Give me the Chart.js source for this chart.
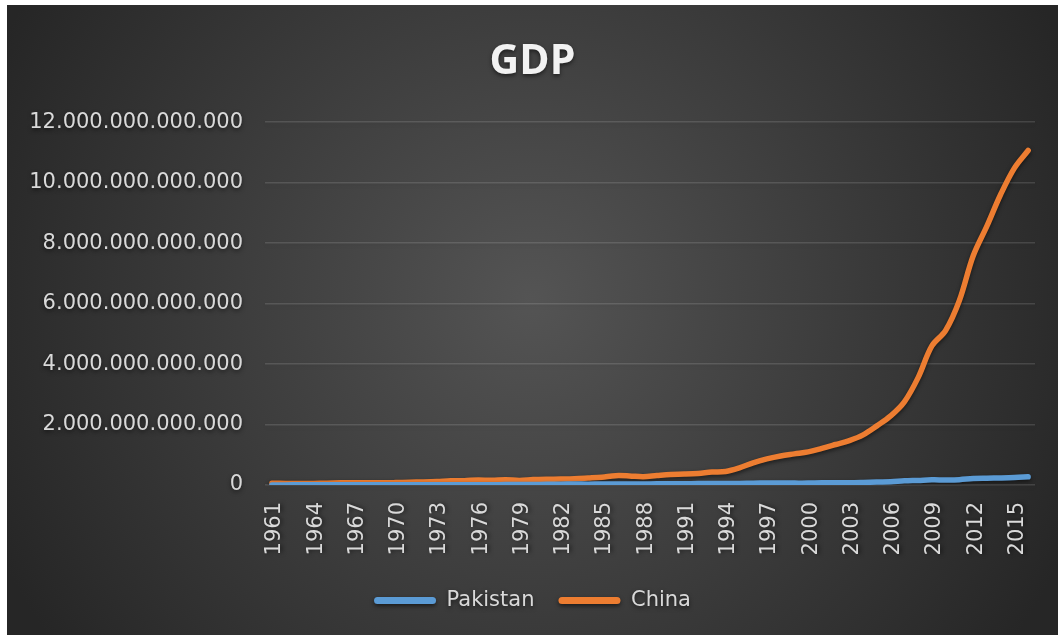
<!DOCTYPE html>
<html>
<head>
<meta charset="utf-8">
<title>GDP</title>
<script src="https://cdn.jsdelivr.net/npm/chart.js@4/dist/chart.umd.min.js"></script>
<style>
  html, body { margin: 0; padding: 0; background: #ffffff; }
  #wrap { position: absolute; left: 7px; top: 5px; width: 1051px; height: 630px; overflow: hidden; }
  canvas { display: block; }
  .year {
    position: absolute; left: 0; top: 0;
    transform-origin: 0 0;
    font: 21px "DejaVu Sans", sans-serif;
    line-height: 1;
    color: #d9d9d9;
    white-space: nowrap;
    text-shadow: 0 2px 4px rgba(0, 0, 0, 0.55);
  }
</style>
</head>
<body>
<div id="wrap"><canvas id="gdp" width="1051" height="630"></canvas></div>
<script>
// Years on the category axis
const years = [];
for (let y = 1961; y <= 2016; y++) years.push(String(y));

// GDP, current US$, in billions
const pakistanGdpBn = [
  3.7, 4.1, 4.3, 4.7, 5.3, 5.8, 6.4, 7.0, 7.3, 8.2,
  10.0, 10.6, 9.3, 6.3, 8.1, 10.2, 11.5, 13.1, 14.9, 17.0,
  23.7, 28.1, 30.7, 28.7, 31.1, 31.1, 31.4, 32.2, 38.5, 40.2,
  40.0, 45.5, 48.6, 51.5, 51.9, 60.6, 63.3, 62.4, 62.2, 62.9,
  74.0, 72.3, 72.3, 83.2, 98.0, 109.5, 137.3, 152.4, 170.1, 168.2,
  177.4, 213.6, 224.4, 231.2, 244.4, 270.6
];
const chinaGdpBn = [
  59.7, 50.1, 47.2, 50.7, 59.7, 70.4, 76.7, 72.9, 70.8, 79.7,
  92.6, 99.8, 113.7, 138.5, 144.2, 163.4, 153.9, 174.9, 149.5, 178.3,
  191.1, 195.9, 205.1, 230.7, 259.9, 309.5, 300.8, 272.9, 312.4, 347.8,
  360.9, 383.4, 426.9, 444.7, 564.3, 734.5, 863.7, 961.6, 1029.0, 1094.0,
  1211.3, 1339.4, 1470.6, 1660.3, 1955.3, 2286.0, 2752.1, 3552.2, 4598.2, 5109.9,
  6100.6, 7572.6, 8560.5, 9607.2, 10482.4, 11064.7
];

// Value axis range
const yMin = 0;
const yMax = 12e12;
const yStep = 2e12;
// Every third year gets a label, starting at the first one
const yearLabelEvery = 3;

const toUsd = arr => arr.map(v => v * 1e9);
const dotThousands = v => String(Math.round(v)).replace(/\B(?=(\d{3})+(?!\d))/g, '.');

const tickFont = { family: 'DejaVu Sans', size: 21 };
const textColor = '#d9d9d9';

// Dark radial backdrop plus a soft drop shadow for everything drawn on it
const backdrop = {
  id: 'backdrop',
  beforeDraw(chart) {
    const ctx = chart.ctx;
    const w = chart.width, h = chart.height;
    ctx.save();
    const g = ctx.createRadialGradient(525, 295, 0, 525, 295, 590);
    g.addColorStop(0, '#545454');
    g.addColorStop(1, '#262626');
    ctx.fillStyle = g;
    ctx.fillRect(0, 0, w, h);
    ctx.restore();
    ctx.shadowColor = 'rgba(0,0,0,0.55)';
    ctx.shadowBlur = 4;
    ctx.shadowOffsetX = 0;
    ctx.shadowOffsetY = 2;
  },
  afterDraw(chart) {
    const ctx = chart.ctx;
    ctx.shadowColor = 'rgba(0,0,0,0)';
    ctx.shadowBlur = 0;
    ctx.shadowOffsetY = 0;
  }
};

const chart = new Chart(document.getElementById('gdp'), {
  type: 'line',
  data: {
    labels: years,
    datasets: [
      {
        label: 'Pakistan',
        data: toUsd(pakistanGdpBn),
        borderColor: '#5B9BD5',
        backgroundColor: '#5B9BD5',
        borderWidth: 5.5,
        borderCapStyle: 'round',
        borderJoinStyle: 'round',
        pointRadius: 0,
        tension: 0.35,
        fill: false
      },
      {
        label: 'China',
        data: toUsd(chinaGdpBn),
        borderColor: '#ED7D31',
        backgroundColor: '#ED7D31',
        borderWidth: 5.5,
        borderCapStyle: 'round',
        borderJoinStyle: 'round',
        pointRadius: 0,
        tension: 0.35,
        fill: false
      }
    ]
  },
  options: {
    responsive: false,
    animation: false,
    devicePixelRatio: 1,
    layout: { padding: { left: 0, right: 0, top: 0, bottom: 14 } },
    plugins: {
      title: {
        display: true,
        text: 'GDP',
        color: '#f2f2f2',
        font: { family: 'Open Sans', size: 41, weight: 'bold' },
        padding: { top: 33, bottom: 35 }
      },
      legend: {
        display: true,
        position: 'bottom',
        labels: {
          color: textColor,
          font: { family: 'DejaVu Sans', size: 21 },
          boxWidth: 62,
          boxHeight: 7,
          useBorderRadius: true,
          borderRadius: 3.5,
          padding: 24,
          generateLabels(chart) {
            return Chart.defaults.plugins.legend.labels.generateLabels(chart)
              .map(item => Object.assign(item, { lineWidth: 0 }));
          }
        }
      },
      tooltip: { enabled: false }
    },
    scales: {
      x: {
        offset: true,
        grid: { display: false, drawTicks: false },
        border: { display: false },
        ticks: { display: false },
        afterFit(scale) { scale.height = 81; }
      },
      y: {
        min: yMin,
        max: yMax,
        grid: { color: 'rgba(255,255,255,0.13)', lineWidth: 1.5, drawTicks: false },
        border: { display: false },
        ticks: {
          stepSize: yStep,
          padding: 22,
          color: textColor,
          font: tickFont,
          callback: v => dotThousands(v)
        },
        afterFit(scale) { scale.width = 258; }
      },
      // empty strip on the right edge of the plot
      yRight: {
        position: 'right',
        grid: { display: false, drawTicks: false },
        border: { display: false },
        ticks: { display: false },
        afterFit(scale) { scale.width = 23; }
      }
    }
  },
  plugins: [backdrop]
});

// Vertical year labels, placed on the category scale, reading bottom to top
const xScale = chart.scales.x;
const wrap = document.getElementById('wrap');
years.forEach((yr, i) => {
  if (i % yearLabelEvery !== 0) return;
  const el = document.createElement('div');
  el.className = 'year';
  el.textContent = yr;
  const px = xScale.getPixelForValue(i) + 2;
  const py = xScale.top + 17;
  el.style.transform = `translate(${px}px, ${py}px) rotate(-90deg) translate(-100%, -50%)`;
  wrap.appendChild(el);
});
</script>
</body>
</html>
